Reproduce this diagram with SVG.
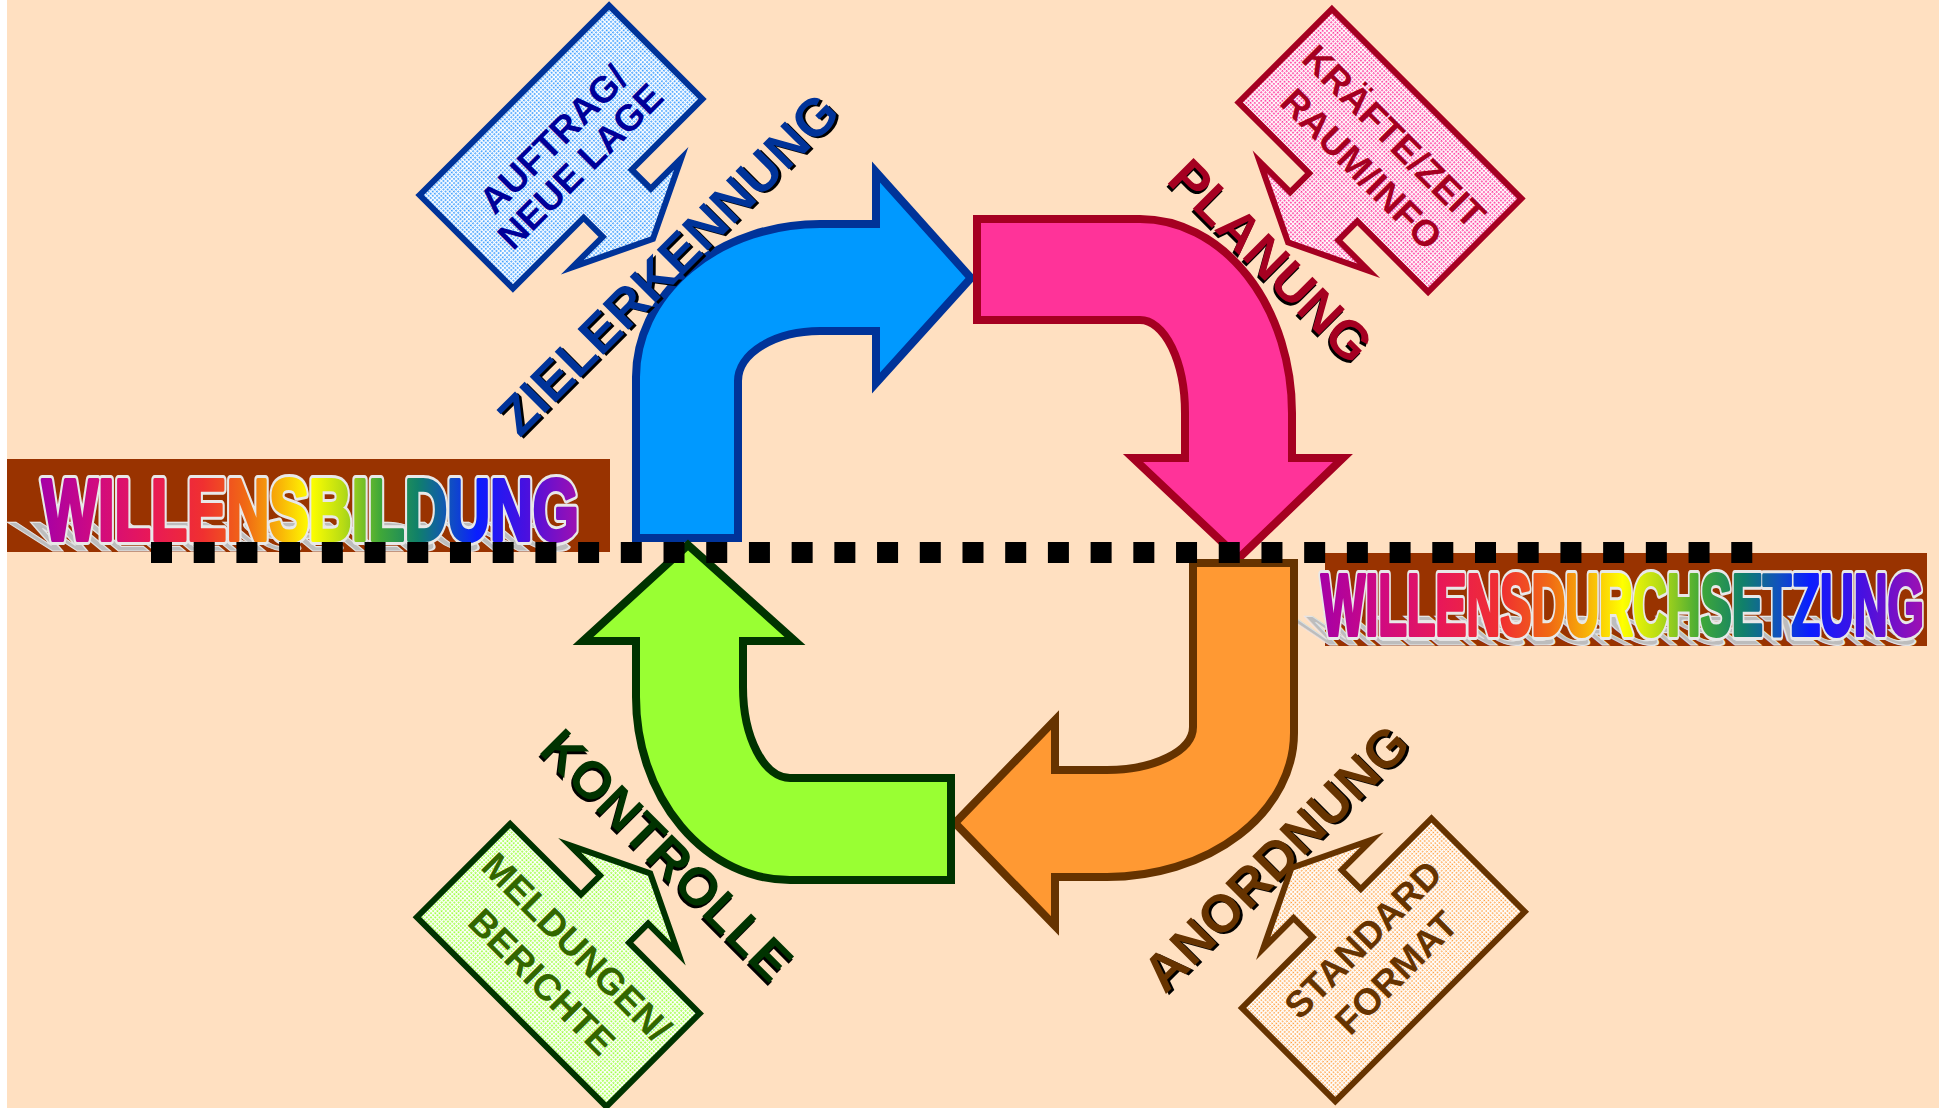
<svg xmlns="http://www.w3.org/2000/svg" width="1939" height="1108" viewBox="0 0 1939 1108">
<defs>
<style>
.lbl{font-family:"Liberation Sans",Arial,sans-serif;font-weight:bold;font-size:53px;text-anchor:middle}
.co{font-family:"Liberation Sans",Arial,sans-serif;font-weight:bold;font-size:37px;text-anchor:middle}
.ban{font-family:"Liberation Sans",Arial,sans-serif;font-weight:bold;font-size:87px}
.arrow{stroke-width:8;stroke-linejoin:miter;stroke-miterlimit:10}
.callout{stroke-width:6;stroke-linejoin:miter;stroke-miterlimit:10}
.shadow{fill:#000}
</style>
<linearGradient id="rainbow" x1="0" y1="0" x2="1" y2="0">
<stop offset="0" stop-color="#A600A6"/>
<stop offset="0.1" stop-color="#D00A80"/>
<stop offset="0.2" stop-color="#E81858"/>
<stop offset="0.3" stop-color="#F03030"/>
<stop offset="0.38" stop-color="#F06A14"/>
<stop offset="0.44" stop-color="#F8B008"/>
<stop offset="0.5" stop-color="#FFFF00"/>
<stop offset="0.56" stop-color="#B8DC14"/>
<stop offset="0.63" stop-color="#40A838"/>
<stop offset="0.7" stop-color="#10806A"/>
<stop offset="0.76" stop-color="#1050C0"/>
<stop offset="0.81" stop-color="#0A1EFF"/>
<stop offset="0.9" stop-color="#4810E0"/>
<stop offset="1" stop-color="#A010B0"/>
</linearGradient>
<pattern id="pBlue" width="3" height="3" patternUnits="userSpaceOnUse"><rect width="3" height="3" fill="#FFFFFF"/><rect width="1.7" height="1.7" fill="#3399FF"/></pattern>
<pattern id="pPink" width="3" height="3" patternUnits="userSpaceOnUse"><rect width="3" height="3" fill="#FFFFFF"/><rect width="1.7" height="1.7" fill="#FF3399"/></pattern>
<pattern id="pGreen" width="3" height="3" patternUnits="userSpaceOnUse"><rect width="3" height="3" fill="#FFFFFF"/><rect width="1.7" height="1.7" fill="#99FF33"/></pattern>
<pattern id="pOrange" width="3" height="3" patternUnits="userSpaceOnUse"><rect width="3" height="3" fill="#FFFFFF"/><rect width="1.5" height="1.5" fill="#FF9933"/></pattern>
<path id="calloutShape" d="M-134,-66 L134,-66 L134,66 L34,66 L34,93 L77,93 L0,130 L-77,93 L-34,93 L-34,66 L-134,66 Z"/>
</defs>

<rect width="1939" height="1108" fill="#FFFFFF"/>
<rect x="7" y="0" width="1932" height="1108" fill="#FFE0C1"/>

<!-- Banners -->
<g id="banner-willensbildung">
<rect x="7" y="459" width="603" height="93" fill="#993300"/>
<text class="ban" x="42" y="540" textLength="537" lengthAdjust="spacingAndGlyphs" fill="#BDBDBD" stroke="#E4E4E4" stroke-width="2.5" transform="translate(0,551) scale(1,0.48) skewX(30) translate(0,-540)">WILLENSBILDUNG</text>
<text class="ban" x="42" y="540" textLength="537" lengthAdjust="spacingAndGlyphs" fill="none" stroke="#E8E8E8" stroke-width="10" stroke-linejoin="round">WILLENSBILDUNG</text>
<text class="ban" x="42" y="540" textLength="537" lengthAdjust="spacingAndGlyphs" fill="url(#rainbow)" stroke="url(#rainbow)" stroke-width="4" stroke-linejoin="round">WILLENSBILDUNG</text>
</g>
<g id="banner-willensdurchsetzung">
<rect x="1325" y="553" width="602" height="93" fill="#993300"/>
<text class="ban" x="1321" y="635" textLength="603" lengthAdjust="spacingAndGlyphs" fill="#BDBDBD" stroke="#E4E4E4" stroke-width="2.5" transform="translate(0,645) scale(1,0.48) skewX(30) translate(0,-635)">WILLENSDURCHSETZUNG</text>
<text class="ban" x="1321" y="635" textLength="603" lengthAdjust="spacingAndGlyphs" fill="none" stroke="#E8E8E8" stroke-width="10" stroke-linejoin="round">WILLENSDURCHSETZUNG</text>
<text class="ban" x="1321" y="635" textLength="603" lengthAdjust="spacingAndGlyphs" fill="url(#rainbow)" stroke="url(#rainbow)" stroke-width="4" stroke-linejoin="round">WILLENSDURCHSETZUNG</text>
</g>

<!-- Main cycle arrows -->
<g id="arrow-zielerkennung">
<path class="arrow" fill="#0099FF" stroke="#003399" d="M636,538 L636,377 A184,153 0 0 1 820,224 L876,224 L876,172 L971,278 L876,383 L876,331 L820,331 A82,50 0 0 0 738,381 L738,538 Z"/>
</g>
<g id="arrow-planung">
<path class="arrow" fill="#FF3399" stroke="#A50021" d="M977,219 L1140,219 A152,194 0 0 1 1292,413 L1292,458 L1343,458 L1239,558 L1133,458 L1185,458 L1185,413 A45,93 0 0 0 1140,320 L977,320 Z"/>
</g>
<g id="arrow-anordnung">
<path class="arrow" fill="#FF9933" stroke="#663300" d="M1193,563 L1294,563 L1294,733 A187,144 0 0 1 1107,877 L1055,877 L1055,926 L955,823 L1055,720 L1055,770 L1107,770 A86,43 0 0 0 1193,727 Z"/>
</g>
<g id="arrow-kontrolle">
<path class="arrow" fill="#99FF33" stroke="#003300" d="M688,545 L795,641 L743,641 L743,687 A47,91 0 0 0 790,778 L951,778 L951,880 L790,880 A154,183 0 0 1 636,697 L636,641 L583,641 Z"/>
</g>

<!-- Dividing dotted line -->
<g id="connectors">
<line x1="151" y1="552.5" x2="1752.3" y2="552.5" stroke="#000000" stroke-width="21" stroke-dasharray="21 21.71"/>
</g>

<!-- Phase labels -->
<g id="label-zielerkennung" transform="translate(681,277) rotate(-45)">
<text class="lbl shadow" x="1" y="3">ZIELERKENNUNG</text>
<text class="lbl" x="0" y="0" fill="#003399">ZIELERKENNUNG</text>
</g>
<g id="label-planung" transform="translate(1258,274) rotate(45)">
<text class="lbl shadow" x="1" y="3">PLANUNG</text>
<text class="lbl" x="0" y="0" fill="#A50021">PLANUNG</text>
</g>
<g id="label-kontrolle" transform="translate(654,868) rotate(45)">
<text class="lbl shadow" x="1" y="3">KONTROLLE</text>
<text class="lbl" x="0" y="0" fill="#003300">KONTROLLE</text>
</g>
<g id="label-anordnung" transform="translate(1289,871) rotate(-45)">
<text class="lbl shadow" x="1" y="3">ANORDNUNG</text>
<text class="lbl" x="0" y="0" fill="#663300">ANORDNUNG</text>
</g>

<!-- Callouts -->
<g id="callout-auftrag" transform="translate(561,147)">
<use href="#calloutShape" class="callout" fill="url(#pBlue)" stroke="#003399" transform="rotate(-45)"/>
<g transform="rotate(-45)" fill="#000099">
<text class="co" x="0" y="2">AUFTRAG/</text>
<text class="co" x="0" y="40">NEUE LAGE</text>
</g>
</g>
<g id="callout-kraefte" transform="translate(1380,150.5)">
<use href="#calloutShape" class="callout" fill="url(#pPink)" stroke="#A50021" transform="rotate(45)"/>
<g transform="rotate(45)" fill="#A50021">
<text class="co" x="0" y="-7">KRÄFTE/ZEIT</text>
<text class="co" x="0" y="39">RAUM/INFO</text>
</g>
</g>
<g id="callout-meldungen" transform="translate(558.3,965.3)">
<use href="#calloutShape" class="callout" fill="url(#pGreen)" stroke="#003300" transform="rotate(-135)"/>
<g transform="rotate(45)" fill="#336600">
<text class="co" x="0" y="-13">MELDUNGEN/</text>
<text class="co" x="0" y="36">BERICHTE</text>
</g>
</g>
<g id="callout-standard" transform="translate(1383.4,959.8)">
<use href="#calloutShape" class="callout" fill="url(#pOrange)" stroke="#663300" transform="rotate(135)"/>
<g transform="rotate(-45)" fill="#663300">
<text class="co" x="0" y="-16">STANDARD</text>
<text class="co" x="0" y="31">FORMAT</text>
</g>
</g>
</svg>
